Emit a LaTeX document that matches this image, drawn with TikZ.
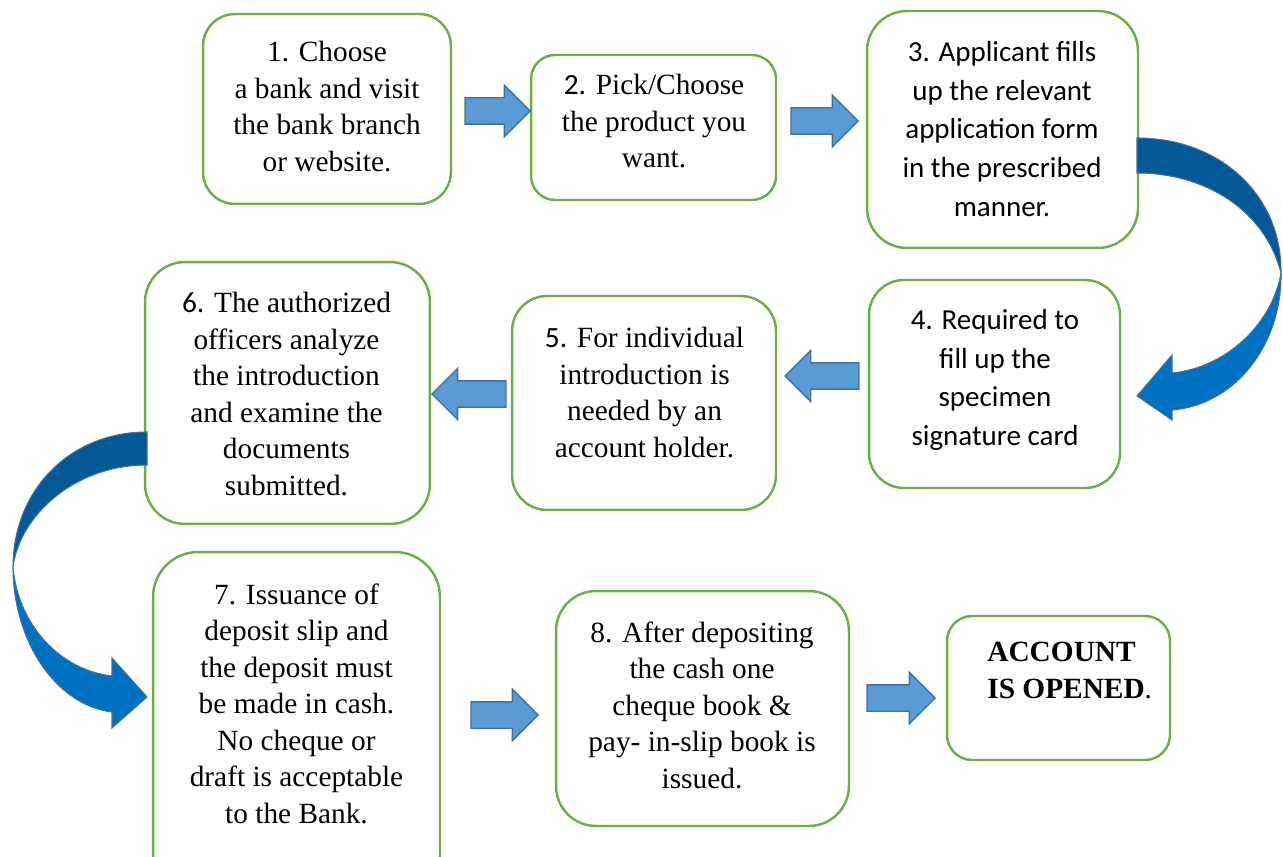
\documentclass[tikz,border=0pt]{standalone}
\usepackage{fontspec}
\setmainfont{Liberation Serif}
\newfontfamily\calibri{Carlito}
\usetikzlibrary{shapes.arrows}

\definecolor{boxgreen}{RGB}{112,173,71}
\definecolor{arrowfill}{RGB}{91,155,213}
\definecolor{arrowline}{RGB}{65,113,156}
\definecolor{curvedark}{RGB}{4,88,150}
\definecolor{curvelight}{RGB}{0,112,192}

\tikzset{
  stepbox/.style={draw=boxgreen, line width=1.4pt, rounded corners=#1, inner sep=0pt},
  stepbox/.default=0.6cm,
  steptext/.style={align=center, anchor=north, inner sep=0pt, font=\fontsize{16.7}{20.8}\selectfont},
  sanstext/.style={steptext, font=\calibri\fontsize{16.5}{22}\selectfont},
  blockarrow/.style={single arrow, draw=arrowline, fill=arrowfill, line width=0.8pt,
    inner sep=0pt, inner ysep=0.25cm, single arrow head extend=0.25cm, minimum height=#1},
  curvedband/.style={draw=arrowline, line width=0.6pt}
}

\begin{document}
\begin{tikzpicture}[x=0.02cm, y=-0.02cm]
    \clip (0,0) rectangle (1283,857);

    % the boxes
    \node[stepbox=0.64cm, minimum width=4.96cm, minimum height=3.8cm] (b1) at (327,109) {};
    \node[stepbox=0.48cm, minimum width=4.9cm, minimum height=2.9cm] (b2) at (653.5,127.5) {};
    \node[stepbox=0.8cm, minimum width=5.42cm, minimum height=4.74cm] (b3) at (1002.5,129.5) {};
    \node[stepbox=0.7cm, minimum width=5.02cm, minimum height=4.16cm] (b4) at (994.5,384) {};
    \node[stepbox=0.7cm, minimum width=5.28cm, minimum height=4.28cm] (b5) at (644,403) {};
    \node[stepbox=0.8cm, minimum width=5.7cm, minimum height=5.24cm] (b6) at (287.5,393) {};
    \node[stepbox=0.9cm, minimum width=5.74cm, minimum height=6.96cm] (b7) at (296.5,726) {};
    \node[stepbox=0.8cm, minimum width=5.86cm, minimum height=4.7cm] (b8) at (702.5,708.5) {};
    \node[stepbox=0.5cm, minimum width=4.46cm, minimum height=2.88cm] (b9) at (1058.5,688) {};

    % the texts
    \node[steptext] (t1) at (327,41) {1. Choose\\ a bank and visit\\ the bank branch\\ or website.};
    \node[steptext] (t2) at (654,74) {{\calibri 2.} Pick/Choose\\ the product you\\ want.};
    \node[sanstext] (t3) at (1002,41) {3. Applicant fills\\ up the relevant\\ application form\\ in the prescribed\\ manner.};
    \node[sanstext] (t4) at (995,309) {4. Required to\\ fill up the\\ specimen\\ signature card};
    \node[steptext] (t5) at (644.5,327) {{\calibri 5.} For individual\\ introduction is\\ needed by an\\ account holder.};
    \node[steptext] (t6) at (286.5,292) {{\calibri 6.} The authorized\\ officers analyze\\ the introduction\\ and examine the\\ documents\\ submitted.};
    \node[steptext] (t7) at (296.5,583) {7. Issuance of\\ deposit slip and\\ the deposit must\\ be made in cash.\\ No cheque or\\ draft is acceptable\\ to the Bank.};
    \node[steptext] (t8) at (702,621) {8. After depositing\\ the cash one\\ cheque book \&\\ pay- in-slip book is\\ issued.};
    \node[steptext, align=left, anchor=north west] (t9) at (987,642) {\textbf{ACCOUNT}\\ \textbf{IS OPENED}.};

    % block arrows
    \node[blockarrow=1.3cm, anchor=tip] (a12) at (531,111) {};
    \node[blockarrow=1.34cm, anchor=tip] (a23) at (859,121) {};
    \node[blockarrow=1.48cm, shape border rotate=180, anchor=tip] (a45) at (784,376) {};
    \node[blockarrow=1.48cm, shape border rotate=180, anchor=tip] (a56) at (431,394) {};
    \node[blockarrow=1.34cm, anchor=tip] (a78) at (539,715) {};
    \node[blockarrow=1.36cm, anchor=tip] (a89) at (936,698) {};

    % curved arrow from 3 down to 4
    \filldraw[curvedband, fill=curvedark] (1137,138) .. controls (1220,138) and (1282,195) .. (1281,273)
        .. controls (1265,210) and (1205,173) .. (1137,173) -- cycle;
    \filldraw[curvedband, fill=curvelight] (1281,273) .. controls (1282,345) and (1235,405) .. (1172,410)
        -- (1172,420) -- (1137,396) -- (1172,355) -- (1172,373)
        .. controls (1225,368) and (1272,325) .. (1281,273) -- cycle;

    % curved arrow from 6 down to 7
    \filldraw[curvedband, fill=curvedark] (147,432) .. controls (70,432) and (13,490) .. (13,567)
        .. controls (20,515) and (75,465) .. (147,465) -- cycle;
    \filldraw[curvedband, fill=curvelight] (13,567) .. controls (13,640) and (55,705) .. (112,712)
        -- (112,728) -- (147,697) -- (112,658) -- (112,676)
        .. controls (60,670) and (18,625) .. (13,567) -- cycle;
\end{tikzpicture}
\end{document}
